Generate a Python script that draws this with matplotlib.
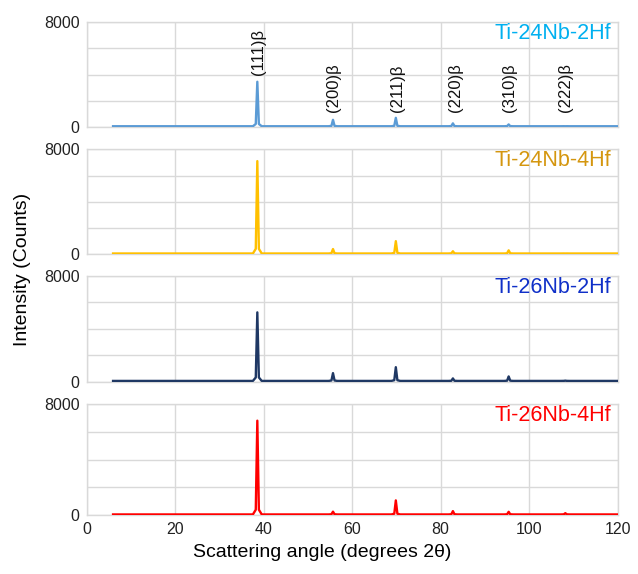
import numpy as np
import matplotlib
matplotlib.use('Agg')
import matplotlib.pyplot as plt

plt.rcParams['font.family'] = ['Liberation Sans', 'DejaVu Sans']

# peak positions (2theta) and labels
peak_pos = [38.6, 55.7, 69.9, 82.8, 95.4, 108.2]
peak_labels = ['(111)β', '(200)β', '(211)β', '(220)β', '(310)β', '(222)β']
label_x = [38.8, 55.9, 70.2, 83.3, 95.6, 108.3]
label_y = [4000, 1150, 1150, 1150, 1150, 1150]

# peak heights (counts)
samples = ['Ti-24Nb-2Hf', 'Ti-24Nb-4Hf', 'Ti-26Nb-2Hf', 'Ti-26Nb-4Hf']
h_24_2 = [3450, 550, 700, 280, 200, 60]
h_24_4 = [7100, 400, 1000, 230, 300, 60]
h_26_2 = [5250, 650, 1100, 250, 400, 80]
h_26_4 = [6800, 260, 1070, 300, 250, 150]
heights = [h_24_2, h_24_4, h_26_2, h_26_4]
background = [60, 60, 60, 60]
x_start, x_end = 6, 120

line_colors = ['#5B9BD5', '#FFC000', '#1F3864', '#FF0000']
text_colors = ['#00B0F0', '#D4960F', '#1030C8', '#FF0000']

# panel boxes in figure fractions [left, bottom, width, height]
boxes = [
    [0.1356, 0.7787, 0.8323, 0.1829],
    [0.1356, 0.5570, 0.8323, 0.1829],
    [0.1356, 0.3350, 0.8323, 0.1841],
    [0.1356, 0.1023, 0.8323, 0.1939],
]


def trace(hs, base):
    xs = [x_start]
    ys = [base]
    for p, h in zip(peak_pos, hs):
        xs += [p - 1.0, p - 0.35, p, p + 0.35, p + 1.0]
        ys += [base, base + 0.05 * h, h, base + 0.05 * h, base]
    xs.append(x_end)
    ys.append(base)
    return xs, ys


fig = plt.figure(figsize=(6.38, 5.74), dpi=100)
grid_c = '#D9D9D9'

for i, box in enumerate(boxes):
    ax = fig.add_axes(box)
    xs, ys = trace(heights[i], background[i])
    ax.plot(xs, ys, color=line_colors[i], lw=1.7, zorder=3)
    ax.set_xlim(0, 120)
    ax.set_ylim(0, 8000)
    ax.set_xticks(np.arange(0, 121, 20))
    ax.set_yticks([0, 2000, 4000, 6000, 8000])
    ax.set_yticklabels(['0', '', '', '', '8000'])
    ax.grid(True, color=grid_c, lw=1.0, zorder=0)
    for s in ax.spines.values():
        s.set_color(grid_c)
        s.set_linewidth(1.0)
    ax.tick_params(length=0, labelsize=11.5, colors='#222222', pad=5)
    if i < 3:
        ax.tick_params(labelbottom=False)
    ax.text(0.988, 0.895, samples[i], transform=ax.transAxes, ha='right',
            va='center', fontsize=15.5, color=text_colors[i], zorder=4)
    if i == 0:
        for lx, ly, lab in zip(label_x, label_y, peak_labels):
            ax.text(lx, ly, lab, rotation=90, ha='center', va='bottom',
                    fontsize=12, color='#111111', zorder=4)

fig.text(0.505, 0.038, 'Scattering angle (degrees 2θ)', ha='center',
         va='center', fontsize=14)
fig.text(0.035, 0.53, 'Intensity (Counts)', rotation=90, ha='center',
         va='center', fontsize=14)

fig.savefig('out.png', dpi=100)
